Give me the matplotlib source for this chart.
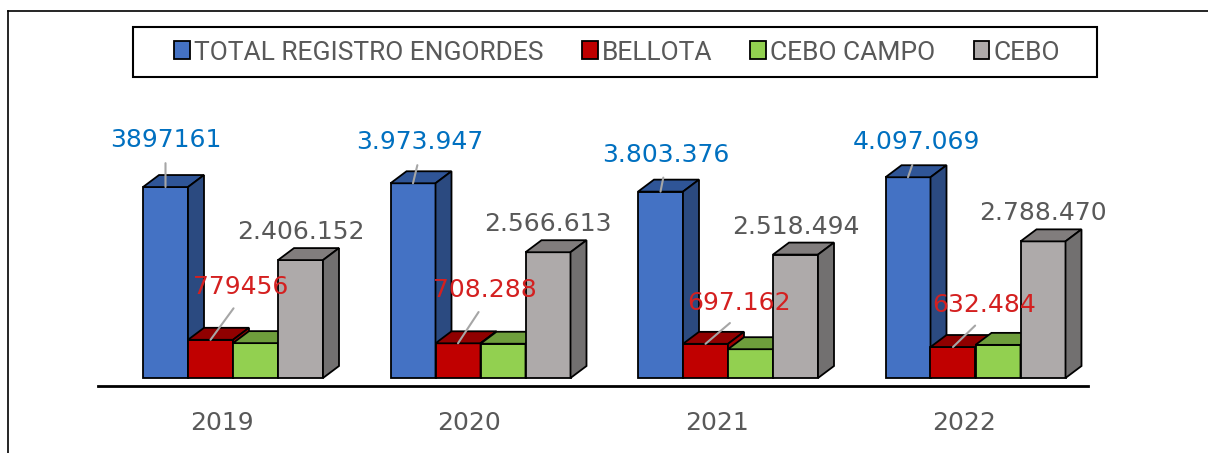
import matplotlib.pyplot as plt
from matplotlib.patches import Polygon, Rectangle, Patch
from matplotlib.lines import Line2D

years = ['2019', '2020', '2021', '2022']
series = ['TOTAL REGISTRO ENGORDES', 'BELLOTA', 'CEBO CAMPO', 'CEBO']
total = [3897161, 3973947, 3803376, 4097069]
bellota = [779456, 708288, 697162, 632484]
cebo_campo = [711553, 699046, 587720, 676115]
cebo = [2406152, 2566613, 2518494, 2788470]
total_labels = ['3897161', '3.973.947', '3.803.376', '4.097.069']
bellota_labels = ['779456', '708.288', '697.162', '632.484']
cebo_labels = ['2.406.152', '2.566.613', '2.518.494', '2.788.470']

# front, top, side colours per series
front = ['#4472C4', '#C00000', '#92D050', '#AEAAAA']
top = ['#2F5597', '#900000', '#6E9E3C', '#817D7D']
side = ['#2B4A80', '#A00000', '#7AAF44', '#727070']

W, H = 1208, 453
fig = plt.figure(figsize=(W / 100, H / 100), dpi=100)
ax = fig.add_axes([98 / W, (H - 386) / H, 990 / W, (386 - 100) / H])

px_per_unit = 49e-6           # pixels per pig
ymin = -8 / px_per_unit
ymax = ymin + 286 / px_per_unit
ax.set_ylim(ymin, ymax)
ax.set_xlim(-0.5, 3.5)

cat_px = 990 / 4
w = 45 / cat_px
first = -78.75 / cat_px
dx = 16 / cat_px
dy = 12 / px_per_unit

values = [total, bellota, cebo_campo, cebo]
z = 2
centers = {}
for i in range(len(years)):
    for k, vals in enumerate(values):
        v = vals[i]
        x0 = i + first + k * w
        ax.bar(x0, v, width=w, align='edge', color=front[k], edgecolor='black',
               linewidth=1.3, zorder=z)
        ax.add_patch(Polygon([(x0, v), (x0 + w, v), (x0 + w + dx, v + dy), (x0 + dx, v + dy)],
                             closed=True, facecolor=top[k], edgecolor='black', linewidth=1.3, zorder=z + 1))
        ax.add_patch(Polygon([(x0 + w, 0), (x0 + w + dx, dy), (x0 + w + dx, v + dy), (x0 + w, v)],
                             closed=True, facecolor=side[k], edgecolor='black', linewidth=1.3, zorder=z + 1))
        centers[(i, k)] = (x0 + w / 2, v)
        z += 3

num_font = dict(fontsize=18, family='DejaVu Sans')
total_off = [(0, 47), (7, 41), (5, 37), (8, 35)]
bellota_off = [(30, 53), (27, 53), (34, 41), (31, 42)]
for i in range(len(years)):
    for k, labels, offs, col in [(0, total_labels, total_off, '#0070C0'),
                                 (1, bellota_labels, bellota_off, '#D42020')]:
        ox, oy = offs[i]
        ax.annotate(labels[i], xy=centers[(i, k)], xytext=(ox * 0.72, oy * 0.72),
                    textcoords='offset points', ha='center', va='center', color=col,
                    zorder=200, **num_font,
                    arrowprops=dict(arrowstyle='-', color='#A6A6A6', lw=1.5,
                                    relpos=(0.5, 0), shrinkA=6, shrinkB=0))
    ax.annotate(cebo_labels[i], xy=centers[(i, 3)], xytext=(0, 28 * 0.72),
                textcoords='offset points', ha='center', va='center', color='#595959',
                zorder=200, **num_font)

for s in ['top', 'left', 'right']:
    ax.spines[s].set_visible(False)
ax.spines['bottom'].set_linewidth(2)
ax.spines['bottom'].set_color('black')
ax.set_yticks([])
ax.set_xticks(range(len(years)))
ax.set_xticklabels(years, fontsize=18, color='#595959', family='DejaVu Sans')
ax.tick_params(axis='x', length=0, pad=18)
ax.patch.set_visible(False)

# legend with its own box
fig.add_artist(Rectangle((133 / W, 1 - 77 / H), (1097 - 133) / W, 50 / H,
                         transform=fig.transFigure, facecolor='white',
                         edgecolor='black', linewidth=1.5))
handles = [Patch(facecolor=front[k], edgecolor='black', linewidth=1.3) for k in range(4)]
leg = fig.legend(handles, series, loc='center', bbox_to_anchor=(617 / W, 1 - 52.5 / H),
                 ncol=4, frameon=False, handlelength=0.6, handleheight=0.65,
                 handletextpad=0.15, columnspacing=1.45,
                 prop={'family': ['Roboto', 'DejaVu Sans'], 'size': 19})
for t in leg.get_texts():
    t.set_color('#595959')

# outer chart border (top and left visible)
fig.add_artist(Line2D([8 / W, 1], [1 - 11 / H, 1 - 11 / H], color='black', lw=1.2,
                      transform=fig.transFigure))
fig.add_artist(Line2D([8 / W, 8 / W], [0, 1 - 11 / H], color='black', lw=1.2,
                      transform=fig.transFigure))

fig.savefig('out.png', dpi=100)
